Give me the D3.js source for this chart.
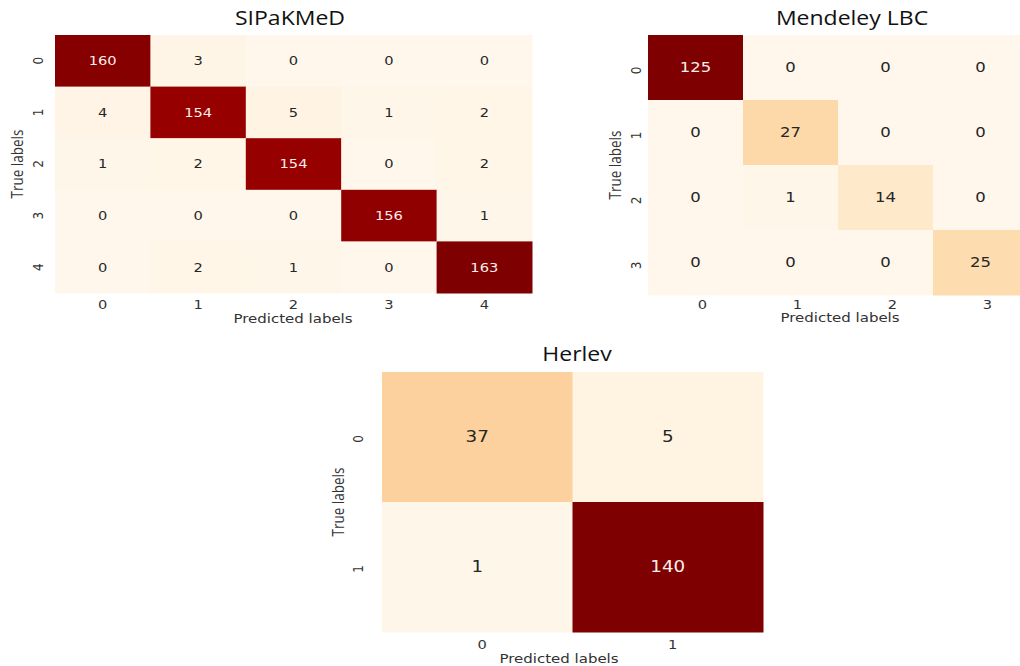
<!DOCTYPE html>
<html>
<head>
<meta charset="utf-8">
<script src="https://cdn.jsdelivr.net/npm/d3@7"></script>
<style>
  html, body { margin: 0; padding: 0; background: #ffffff; }
  svg { display: block; }
</style>
</head>
<body>
<svg id="chart" width="1020" height="666"></svg>
<script>
// Confusion matrices: rows are true labels, columns are predicted labels
const sipakmedLabels = ["0", "1", "2", "3", "4"];
const sipakmedMatrix = [
  [160, 3, 0, 0, 0],
  [4, 154, 5, 1, 2],
  [1, 2, 154, 0, 2],
  [0, 0, 0, 156, 1],
  [0, 2, 1, 0, 163]
];

const mendeleyLabels = ["0", "1", "2", "3"];
const mendeleyMatrix = [
  [125, 0, 0, 0],
  [0, 27, 0, 0],
  [0, 1, 14, 0],
  [0, 0, 0, 25]
];

const herlevLabels = ["0", "1"];
const herlevMatrix = [
  [37, 5],
  [1, 140]
];

const titles = ["SIPaKMeD", "Mendeley LBC", "Herlev"];
const xAxisTitle = "Predicted labels";
const yAxisTitle = "True labels";

const svg = d3.select("#chart");
const SX = 1.22;           // horizontal glyph stretch
const TEXT = "#333333";
const MONO = "DejaVu Sans, sans-serif";
const HUMAN = "Open Sans, Lato, sans-serif";

const panels = [
  { labels: sipakmedLabels, matrix: sipakmedMatrix, title: titles[0],
    x0: 55, x1: 532, y0: 35, y1: 293,
    titleX: 290, titleY: 25, annot: 12,
    xtickDy: 12, xtickShift: 0, xlabX: 293, xlabY: 319,
    ytickDx: -17, ytickShift: 0, ylabX: 17 },
  { labels: mendeleyLabels, matrix: mendeleyMatrix, title: titles[1],
    x0: 648, x1: 1028, y0: 35, y1: 295,
    titleX: 852, titleY: 25, annot: 13.5,
    xtickDy: 10, xtickShift: 7, xlabX: 840, xlabY: 318,
    ytickDx: -12, ytickShift: 3, ylabX: 615 },
  { labels: herlevLabels, matrix: herlevMatrix, title: titles[2],
    x0: 382, x1: 763, y0: 372, y1: 632,
    titleX: 577, titleY: 361, annot: 15,
    xtickDy: 13, xtickShift: 5, xlabX: 559, xlabY: 659,
    ytickDx: -24, ytickShift: 2, ylabX: 338 }
];

function drawPanel(p) {
  const g = svg.append("g");
  const x = d3.scaleBand().domain(p.labels).range([p.x0, p.x1]).padding(0);
  const y = d3.scaleBand().domain(p.labels).range([p.y0, p.y1]).padding(0);
  const maxV = d3.max(p.matrix.flat());
  const color = d3.scaleSequential(d3.interpolateOrRd).domain([0, maxV]);

  const cells = p.matrix.flatMap((row, i) =>
    row.map((v, j) => ({ r: p.labels[i], c: p.labels[j], v })));

  g.selectAll("rect.cell").data(cells).join("rect")
    .attr("class", "cell")
    .attr("x", d => x(d.c))
    .attr("y", d => y(d.r))
    .attr("width", x.bandwidth() + 0.5)
    .attr("height", y.bandwidth() + 0.5)
    .attr("fill", d => color(d.v));

  g.selectAll("text.annot").data(cells).join("text")
    .attr("class", "annot")
    .attr("transform", d =>
      `translate(${x(d.c) + x.bandwidth() / 2},${y(d.r) + y.bandwidth() / 2}) scale(${SX},1)`)
    .attr("text-anchor", "middle")
    .attr("dy", "0.36em")
    .attr("font-family", MONO)
    .attr("font-size", p.annot)
    .attr("fill", d => d3.lab(color(d.v)).l < 55 ? "#fbeeee" : "#262626")
    .text(d => d.v);

  // x axis (predicted)
  const xa = g.append("g")
    .attr("transform", `translate(${p.xtickShift},${p.y1})`)
    .call(d3.axisBottom(x).tickSize(0));
  xa.select(".domain").remove();
  xa.selectAll(".tick text")
    .attr("x", null).attr("y", null).attr("dy", "0.36em")
    .attr("transform", `translate(0,${p.xtickDy}) scale(${SX},1)`)
    .attr("font-family", MONO).attr("font-size", 12)
    .attr("fill", TEXT);

  // y axis (true)
  const ya = g.append("g")
    .attr("transform", `translate(${p.x0},${p.ytickShift})`)
    .call(d3.axisLeft(y).tickSize(0));
  ya.select(".domain").remove();
  ya.selectAll(".tick text")
    .attr("x", null).attr("y", null).attr("dy", "0.36em")
    .attr("text-anchor", "middle")
    .attr("transform", `translate(${p.ytickDx},0) scale(${SX},1) rotate(-90)`)
    .attr("font-family", MONO).attr("font-size", 12)
    .attr("fill", TEXT);

  // axis titles
  g.append("text")
    .attr("transform", `translate(${p.xlabX},${p.xlabY}) scale(${SX},1)`)
    .attr("text-anchor", "middle").attr("dy", "0.36em")
    .attr("font-family", MONO).attr("font-size", 12.3)
    .attr("fill", TEXT)
    .text(xAxisTitle);

  g.append("text")
    .attr("transform", `translate(${p.ylabX},${(p.y0 + p.y1) / 2}) scale(${SX},1) rotate(-90)`)
    .attr("text-anchor", "middle").attr("dy", "0.36em")
    .attr("font-family", HUMAN).attr("font-size", 13.5)
    .attr("fill", TEXT)
    .text(yAxisTitle);

  // panel title
  g.append("text")
    .attr("transform", `translate(${p.titleX},${p.titleY}) scale(1.18,1)`)
    .attr("text-anchor", "middle")
    .attr("font-family", HUMAN).attr("font-size", 19.5)
    .attr("fill", "#111111")
    .text(p.title);
}

panels.forEach(drawPanel);
</script>
</body>
</html>
